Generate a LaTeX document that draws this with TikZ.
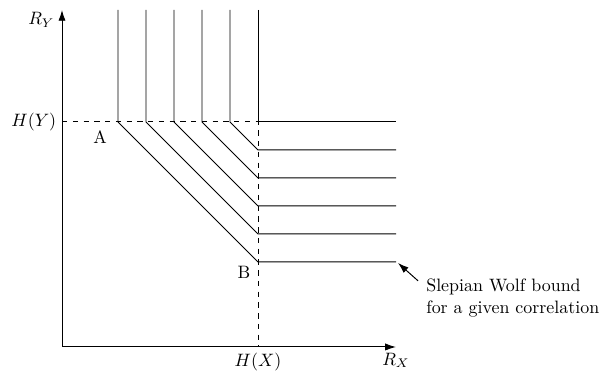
\documentclass[tikz,border=0pt]{standalone}
\usepackage{amsmath}
\usetikzlibrary{arrows.meta,positioning,calc}
\tikzset{
    axis/.style={-{Latex[length=6pt,width=4pt]}},
    guide/.style={dashed},
    curve/.style={line join=miter},
    lbl/.style={inner sep=1pt}
}
\begin{document}
\begin{tikzpicture}[x=0.0196cm, y=-0.0196cm, line width=0.55pt]
    \useasboundingbox (0,0) rectangle (602,372);

    % Axes
    \coordinate (O) at (62,347);
    \coordinate (ytop) at (62,10);
    \coordinate (xend) at (396,347);
    \draw[axis] (O) -- (ytop);
    \draw[axis] (O) -- (xend);
    \node[lbl, left=3pt of ytop, anchor=north east] (ry) {$R_Y$};
    \node[lbl, below=2pt of xend] (rx) {$R_X$};

    % Entropy levels
    \coordinate (HY) at (62,122);
    \coordinate (HX) at (258,347);
    \coordinate (C) at (258,122);
    \draw[guide] (HY) -- (C) -- (HX);
    \node[lbl, left=2pt of HY] (hy) {$H(Y)$};
    \node[lbl, below=2pt of HX] (hx) {$H(X)$};

    % Bounds for decreasing correlation
    \foreach \k in {0,...,5} {
        \coordinate (t\k) at (258-28*\k,10);
        \coordinate (a\k) at (258-28*\k,122);
        \coordinate (b\k) at (258,122+28*\k);
        \coordinate (e\k) at (396,122+28*\k);
        \draw[curve] (t\k) -- (a\k) -- (b\k) -- (e\k);
    }

    % Corner points
    \node[lbl] (A) at (100,137) {A};
    \node[lbl] (B) at (244,272) {B};

    % Annotation
    \node[lbl, align=left, anchor=west] (note) at (424,298)
        {Slepian Wolf bound\\for a given correlation};
    \draw[-{Latex[length=6pt,width=4pt]}] ($(note.north west)+(-6,4)$) -- ($(e5)+(2,1)$);
\end{tikzpicture}
\end{document}
